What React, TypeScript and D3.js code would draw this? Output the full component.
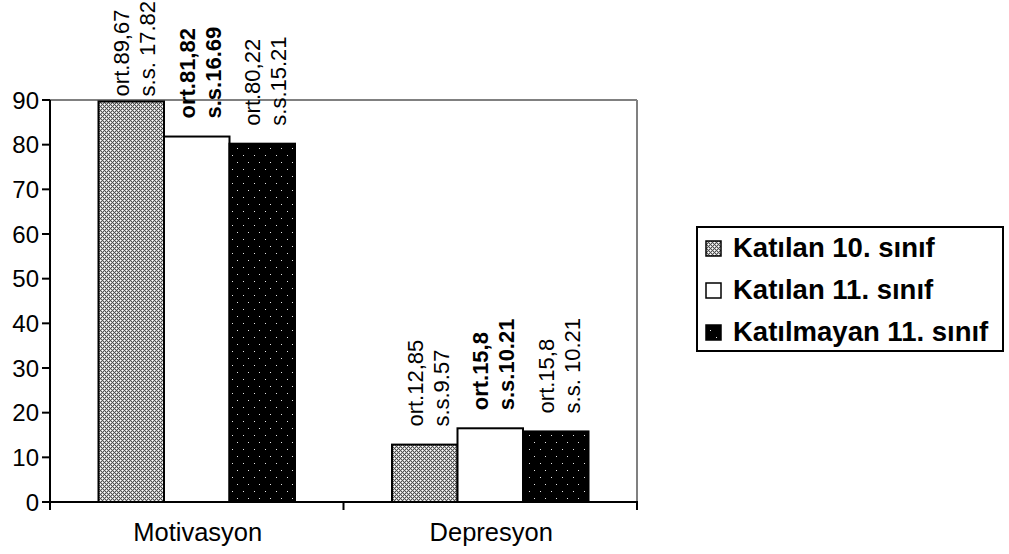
import React, { useEffect, useRef } from "react";
import * as d3 from "d3";

const categories = ["Motivasyon", "Depresyon"];
const seriesNames = ["Katılan 10. sınıf", "Katılan 11. sınıf", "Katılmayan 11. sınıf"];
const values = [
  [89.67, 12.85],
  [81.82, 16.5],
  [80.22, 15.8],
];
const meanLabels = [
  ["ort.89,67", "ort.12,85"],
  ["ort.81,82", "ort.15,8"],
  ["ort.80,22", "ort.15,8"],
];
const sdLabels = [
  ["s.s. 17.82", "s.s.9.57"],
  ["s.s.16.69", "s.s.10.21"],
  ["s.s.15.21", "s.s. 10.21"],
];
const yTicks = [0, 10, 20, 30, 40, 50, 60, 70, 80, 90];

const FONT = "'Liberation Sans', Arial, sans-serif";

export default function App() {
  const ref = useRef<SVGSVGElement>(null);

  useEffect(() => {
    document.body.style.margin = "0";
    const svg = d3.select(ref.current!);
    svg.selectAll("*").remove();

    const left = 50, right = 637, top = 100, bottom = 502;
    const y = d3.scaleLinear().domain([0, 90]).range([bottom, top]);
    const x0 = d3.scaleBand<string>().domain(categories).range([left, right]).paddingInner(0).paddingOuter(0);
    const barW = 65.5;
    const x1 = d3.scaleBand<number>().domain([0, 1, 2]).range([0, barW * 3]);

    const defs = svg.append("defs");
    // gray cross pattern
    const pg = defs.append("pattern").attr("id", "pGray").attr("patternUnits", "userSpaceOnUse")
      .attr("width", 4).attr("height", 4);
    pg.append("rect").attr("width", 4).attr("height", 4).attr("fill", "#505050");
    const arms = [[1, 0], [3, 0], [0, 1], [0, 3], [1, 2], [3, 2], [2, 1], [2, 3]];
    arms.forEach(([a, b]) => pg.append("rect").attr("x", a).attr("y", b).attr("width", 1).attr("height", 1).attr("fill", "#c4c4c4"));
    [[0, 0], [2, 2]].forEach(([a, b]) => pg.append("rect").attr("x", a).attr("y", b).attr("width", 1).attr("height", 1).attr("fill", "#ffffff"));
    // black dotted pattern
    const pb = defs.append("pattern").attr("id", "pBlack").attr("patternUnits", "userSpaceOnUse")
      .attr("width", 11).attr("height", 14);
    pb.append("rect").attr("width", 11).attr("height", 14).attr("fill", "#000");
    [[1, 1], [6, 8]].forEach(([a, b]) => pb.append("rect").attr("x", a).attr("y", b).attr("width", 1).attr("height", 1).attr("fill", "#e8e8e8"));

    const fills = ["url(#pGray)", "#ffffff", "url(#pBlack)"];

    // plot frame top/right gray
    svg.append("line").attr("x1", left).attr("x2", right).attr("y1", top).attr("y2", top)
      .attr("stroke", "#808080").attr("stroke-width", 2);
    svg.append("line").attr("x1", right).attr("x2", right).attr("y1", top).attr("y2", bottom)
      .attr("stroke", "#808080").attr("stroke-width", 2);

    // bars
    values.forEach((ser, si) => {
      ser.forEach((v, ci) => {
        const bw = x0.bandwidth();
        const gx = x0(categories[ci])! + (bw - barW * 3) / 2;
        const bx = gx + x1(si)!;
        svg.append("rect").attr("x", bx).attr("y", y(v)).attr("width", barW).attr("height", y(0) - y(v))
          .attr("fill", fills[si]).attr("stroke", "#000").attr("stroke-width", 2);
      });
    });

    // labels
    values.forEach((ser, si) => {
      ser.forEach((v, ci) => {
        const bw = x0.bandwidth();
        const gx = x0(categories[ci])! + (bw - barW * 3) / 2;
        const cx = gx + x1(si)! + barW / 2;
        const g = svg.append("g");
        const lines = [meanLabels[si][ci], sdLabels[si][ci]];
        const texts = lines.map((t, li) =>
          g.append("text").text(t)
            .attr("font-family", FONT).attr("font-size", 22)
            .attr("font-weight", si === 1 ? "bold" : "normal")
            .attr("fill", "#000")
        );
        const maxLen = d3.max(texts.map(t => (t.node() as SVGTextElement).getComputedTextLength()))!;
        const yStart = Math.max(y(v) - 18, maxLen + 1);
        texts.forEach((t, li) => {
          const bx = cx - 2 + li * 26;
          t.attr("transform", `translate(${bx},${yStart}) rotate(-90)`);
        });
      });
    });

    // axes
    svg.append("line").attr("x1", left).attr("x2", left).attr("y1", top).attr("y2", bottom)
      .attr("stroke", "#000").attr("stroke-width", 2);
    svg.append("line").attr("x1", left).attr("x2", right + 1).attr("y1", bottom).attr("y2", bottom)
      .attr("stroke", "#000").attr("stroke-width", 2);
    yTicks.forEach(t => {
      svg.append("line").attr("x1", left - 8).attr("x2", left).attr("y1", y(t)).attr("y2", y(t))
        .attr("stroke", "#000").attr("stroke-width", 2);
      svg.append("text").text(String(t)).attr("x", 39).attr("y", y(t)).attr("dy", "0.36em")
        .attr("text-anchor", "end").attr("font-family", FONT).attr("font-size", 24).attr("fill", "#000");
    });
    const xt = [...categories.map(c => x0(c)!), right];
    xt.forEach(t => {
      svg.append("line").attr("x1", t).attr("x2", t).attr("y1", bottom).attr("y2", bottom + 8)
        .attr("stroke", "#000").attr("stroke-width", 2);
    });
    categories.forEach(c => {
      svg.append("text").text(c).attr("x", x0(c)! + x0.bandwidth() / 2 + 1).attr("y", 541)
        .attr("text-anchor", "middle").attr("font-family", FONT).attr("font-size", 25.5).attr("fill", "#000");
    });

    // legend
    svg.append("rect").attr("x", 697).attr("y", 227).attr("width", 306).attr("height", 124)
      .attr("fill", "#fff").attr("stroke", "#000").attr("stroke-width", 2);
    seriesNames.forEach((n, i) => {
      const base = 257 + 42 * i;
      svg.append("rect").attr("x", 706).attr("y", base - 16).attr("width", 15).attr("height", 15)
        .attr("fill", fills[i]).attr("stroke", "#000").attr("stroke-width", 1.5);
      svg.append("text").text(n).attr("x", 733).attr("y", base)
        .attr("font-family", FONT).attr("font-size", 27.5).attr("font-weight", "bold").attr("fill", "#000");
    });
  }, []);

  return <svg ref={ref} width={1009} height={554} style={{ display: "block", background: "#fff" }} />;
}
